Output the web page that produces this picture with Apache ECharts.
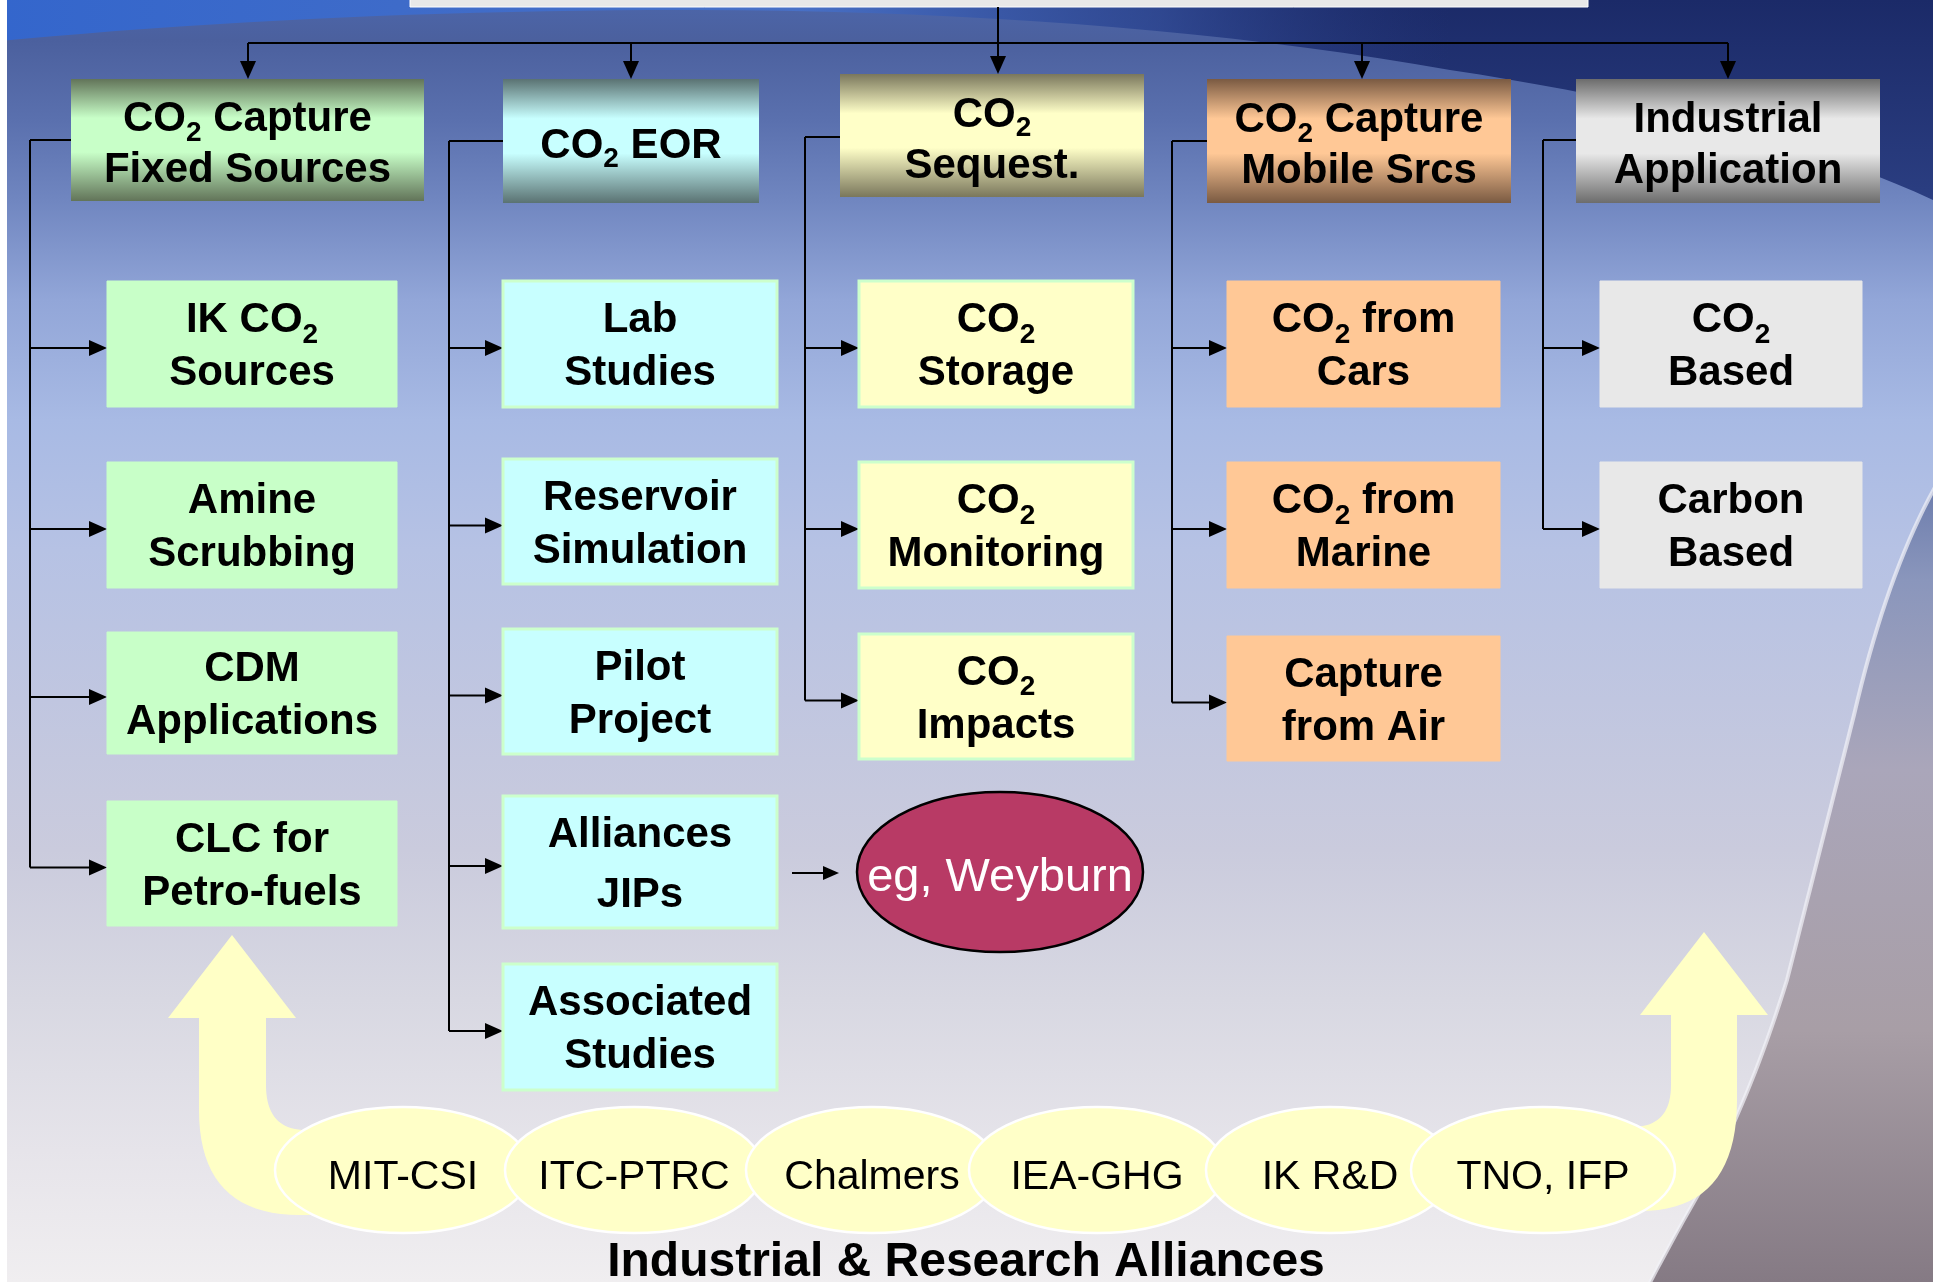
<!DOCTYPE html>
<html>
<head>
<meta charset="utf-8">
<title>CO2 programme map</title>
<script src="https://cdn.jsdelivr.net/npm/echarts@6/dist/echarts.min.js"></script>
<style>
  html, body { margin: 0; padding: 0; background: #fff; }
  #chart { width: 1933px; height: 1282px; }
</style>
</head>
<body>
<div id="chart"></div>
<script>
// everything lives on a hidden value grid that matches the slide, y runs downward
const FONT = '"Liberation Sans", Arial, Helvetica, sans-serif'

// programme areas (top row)
const headerNames = ['CO2 Capture\nFixed Sources', 'CO2 EOR', 'CO2\nSequest.', 'CO2 Capture\nMobile Srcs', 'Industrial\nApplication']
const headerBoxes = [[71, 79, 424, 201], [503, 79, 759, 203], [840, 74, 1144, 197], [1207, 79, 1511, 203], [1576, 79, 1880, 203]]
const dropX = [248, 631, 998, 1362, 1728]
const busY = 43

// sub projects per area
const itemNames = [
  ['IK CO2\nSources', 'Amine\nScrubbing', 'CDM\nApplications', 'CLC for\nPetro-fuels'],
  ['Lab\nStudies', 'Reservoir\nSimulation', 'Pilot\nProject', 'Alliances\nJIPs', 'Associated\nStudies'],
  ['CO2\nStorage', 'CO2\nMonitoring', 'CO2\nImpacts'],
  ['CO2 from\nCars', 'CO2 from\nMarine', 'Capture\nfrom Air'],
  ['CO2\nBased', 'Carbon\nBased']
]
const itemX = [[107, 397], [503, 777], [859, 1133], [1227, 1500], [1600, 1862]]
const itemY = [
  [[281, 407], [462, 588], [632, 754], [801, 926]],
  [[281, 407], [459, 584], [629, 754], [796, 928], [964, 1090]],
  [[281, 407], [462, 588], [634, 759]],
  [[281, 407], [462, 588], [636, 761]],
  [[281, 407], [462, 588]]
]
const trunkX = [30, 449, 805, 1172, 1543]
const trunkTopY = [140, 141, 137, 141, 140]

// field example
const exampleName = 'eg, Weyburn'
const exampleEllipse = [[1000, 872, 143, 80]]
const exampleArrow = [[792, 873], [839, 873]]

// partners along the bottom
const allianceNames = ['MIT-CSI', 'ITC-PTRC', 'Chalmers', 'IEA-GHG', 'IK R&D', 'TNO, IFP']
const allianceX = [403, 634, 872, 1097, 1330, 1543]
const allianceRx = [128, 129, 126, 128, 124, 132]
const allianceY = 1170
const allianceRy = 63
const footerTitle = 'Industrial & Research Alliances'

// curved arrows rising out of the end partners ([x,y] = line to, [cx,cy,x,y] = curve to)
const leftLift = [
  [232, 935], [296, 1018], [266, 1018], [266, 1085], [266, 1130, 306, 1130], [345, 1130],
  [345, 1215], [300, 1215], [199, 1215, 199, 1110], [199, 1018], [168, 1018]
]
const rightLift = [
  [1704, 932], [1768, 1015], [1737, 1015], [1737, 1100], [1737, 1211, 1640, 1211], [1595, 1211],
  [1595, 1127], [1632, 1127], [1671, 1127, 1671, 1085], [1671, 1015], [1640, 1015]
]

// slide backdrop: the pale globe, and the part of its outline that carries a light rim
const globeEdge = [
  [-10, 42], [300, 12, 650, 10], [1100, 8, 1450, 70], [1750, 115, 1933, 200], [1945, 470],
  [1890, 560, 1854, 715], [1820, 850, 1787, 980], [1750, 1100, 1699, 1193], [1672, 1240, 1645, 1292],
  [-10, 1292]
]
const globeRim = globeEdge.slice(4, 9)

const lightFill = ['#c8ffc8', '#c8ffff', '#ffffc8', '#ffc896', '#e8e8e8']
const darkFill = ['#627459', '#5a7272', '#7a775c', '#7a5a42', '#6c6c6c']

function richLabel(s) {
  return s.replace(/CO2/g, 'CO{s|2}')
}

function textEl(api, x, y, text, size, opts) {
  const p = api.coord([x, y])
  opts = opts || {}
  return {
    type: 'text',
    style: {
      x: p[0], y: p[1],
      text: richLabel(text),
      fontFamily: FONT,
      fontSize: size,
      fontWeight: opts.weight || 'bold',
      fill: opts.color || '#000',
      align: 'center',
      verticalAlign: 'middle',
      lineHeight: opts.lineHeight || 51,
      rich: {
        s: { fontSize: Math.round(size * 0.67), fontFamily: FONT, fontWeight: 'bold', height: 24, verticalAlign: 'bottom' }
      }
    }
  }
}

function head(api, tip, dir, len, half) {
  const t = tip
  let pts
  if (dir === 'right') pts = [[t[0], t[1]], [t[0] - len, t[1] - half], [t[0] - len, t[1] + half]]
  else pts = [[t[0], t[1]], [t[0] - half, t[1] - len], [t[0] + half, t[1] - len]]
  return { type: 'polygon', shape: { points: pts.map(q => api.coord(q)) }, style: { fill: '#000' } }
}

function seg(api, a, b, w) {
  const p = api.coord(a), q = api.coord(b)
  return { type: 'line', shape: { x1: p[0], y1: p[1], x2: q[0], y2: q[1] }, style: { stroke: '#000', lineWidth: w || 2 } }
}

function traceOutline(api, segs) {
  const pts = []
  let cur = null
  segs.forEach(s => {
    if (s.length === 2) {
      cur = s
      pts.push(api.coord(s))
    } else {
      for (let k = 1; k <= 20; k++) {
        const u = k / 20
        const x = (1 - u) * (1 - u) * cur[0] + 2 * u * (1 - u) * s[0] + u * u * s[2]
        const y = (1 - u) * (1 - u) * cur[1] + 2 * u * (1 - u) * s[1] + u * u * s[3]
        pts.push(api.coord([x, y]))
      }
      cur = [s[2], s[3]]
    }
  })
  return pts
}

const itemRows = []
itemNames.forEach((col, c) => col.forEach((name, r) => {
  itemRows.push([itemX[c][0], itemY[c][r][0], itemX[c][1], itemY[c][r][1], c, r])
}))

const chart = echarts.init(document.getElementById('chart'), null, { renderer: 'canvas' })

const option = {
  animation: false,
  grid: { left: 0, right: 0, top: 0, bottom: 0 },
  xAxis: { type: 'value', min: 0, max: 1933, show: false },
  yAxis: { type: 'value', min: 0, max: 1282, inverse: true, show: false },
  series: [
    {
      // slide backdrop
      type: 'custom', name: 'backdrop', z: 1, clip: false, silent: true,
      data: [[0, 0]],
      renderItem: function (params, api) {
        const o = api.coord([0, 0]), e = api.coord([1933, 1282])
        const g = (stops) => new echarts.graphic.LinearGradient(0, o[1], 0, e[1], stops.map(s => ({ offset: s[0] / 1282, color: s[1] })), true)
        return {
          type: 'group',
          children: [
            {
              type: 'rect', shape: { x: o[0], y: o[1], width: e[0] - o[0], height: e[1] - o[1] },
              style: { fill: g([[0, '#1b2a68'], [190, '#2a3d80'], [380, '#4c619c'], [580, '#8a96bc'],
                [770, '#aaa6ba'], [1030, '#a89ea6'], [1282, '#857a84']]) }
            },
            {
              type: 'rect', shape: { x: o[0], y: o[1], width: api.size([1450, 0])[0], height: api.size([0, 110])[1] },
              style: { fill: new echarts.graphic.LinearGradient(0, 0, 1, 0, [
                { offset: 0, color: '#3466cc' }, { offset: 0.55, color: '#4870c6' },
                { offset: 0.8, color: 'rgba(60,90,170,0.6)' }, { offset: 1, color: 'rgba(40,60,130,0)' }]) }
            },
            {
              type: 'polygon', shape: { points: traceOutline(api, globeEdge) },
              style: {
                fill: g([[0, '#4c66aa'], [40, '#4b609e'], [120, '#5a70ae'], [200, '#7086c0'], [300, '#92a6d8'],
                  [420, '#a8bae4'], [550, '#b6c2e4'], [700, '#c0c6e0'], [850, '#cacbdd'], [1000, '#d8d8e2'],
                  [1150, '#e6e4ea'], [1282, '#f0eef0']])
              }
            },
            {
              type: 'polyline', shape: { points: traceOutline(api, globeRim) },
              style: { fill: null, stroke: 'rgba(242,242,248,0.7)', lineWidth: 4 }
            },
            {
              type: 'rect', shape: { x: o[0], y: o[1], width: api.size([7, 0])[0], height: e[1] - o[1] },
              style: { fill: '#ffffff' }
            },
            {
              type: 'rect', shape: { x: api.coord([410, 0])[0], y: o[1] - 4, width: api.size([1178, 0])[0], height: api.size([0, 11])[1] },
              style: { fill: '#e8e8e8', stroke: '#ffffff', lineWidth: 1 }
            }
          ]
        }
      }
    },
    {
      // arrows rising from the partners to the first and last areas
      type: 'custom', name: 'lifts', z: 2, clip: false, silent: true,
      data: [[0, 0], [1, 0]],
      renderItem: function (params, api) {
        const outline = params.dataIndex === 0 ? leftLift : rightLift
        return { type: 'polygon', shape: { points: traceOutline(api, outline) }, style: { fill: '#ffffc6' } }
      }
    },
    {
      // top distribution bar
      type: 'custom', name: 'bus', z: 3, clip: false, silent: true,
      data: dropX.map((x, i) => [x, headerBoxes[i][1]]),
      renderItem: function (params, api) {
        const x = api.value(0), y = api.value(1)
        const kids = [seg(api, [x, busY], [x, y - 15]), head(api, [x, y], 'down', 18, 8)]
        if (params.dataIndex === 0) kids.push(seg(api, [dropX[0], busY], [dropX[dropX.length - 1], busY]))
        if (params.dataIndex === 2) kids.push(seg(api, [x, 7], [x, busY]))
        return { type: 'group', children: kids }
      }
    },
    {
      // branch lines from each area to its sub projects
      type: 'custom', name: 'branches', z: 3, clip: false, silent: true,
      data: trunkX.map((x, i) => [x, trunkTopY[i]]),
      renderItem: function (params, api) {
        const c = params.dataIndex
        const x = api.value(0), top = api.value(1)
        const ys = itemY[c].map(r => (r[0] + r[1]) / 2 + 4)
        const kids = [
          seg(api, [x, top], [headerBoxes[c][0], top]),
          seg(api, [x, top], [x, ys[ys.length - 1]])
        ]
        ys.forEach(y => {
          kids.push(seg(api, [x, y], [itemX[c][0] - 14, y]))
          kids.push(head(api, [itemX[c][0], y], 'right', 18, 8))
        })
        return { type: 'group', children: kids }
      }
    },
    {
      type: 'custom', name: 'areas', z: 5, clip: false,
      data: headerBoxes,
      encode: { x: [0, 2], y: [1, 3] },
      renderItem: function (params, api) {
        const i = params.dataIndex
        const p0 = api.coord([api.value(0), api.value(1)])
        const p1 = api.coord([api.value(2), api.value(3)])
        const fill = new echarts.graphic.LinearGradient(0, 0, 0, 1, [
          { offset: 0, color: darkFill[i] }, { offset: 0.32, color: lightFill[i] },
          { offset: 0.6, color: lightFill[i] }, { offset: 1, color: darkFill[i] }])
        return {
          type: 'group',
          children: [
            { type: 'rect', shape: { x: p0[0], y: p0[1], width: p1[0] - p0[0], height: p1[1] - p0[1] }, style: { fill: fill } },
            textEl(api, (api.value(0) + api.value(2)) / 2, (api.value(1) + api.value(3)) / 2 + 5, headerNames[i], 42)
          ]
        }
      }
    },
    {
      type: 'custom', name: 'projects', z: 5, clip: false,
      data: itemRows,
      encode: { x: [0, 2], y: [1, 3] },
      renderItem: function (params, api) {
        const c = api.value(4), r = api.value(5)
        const p0 = api.coord([api.value(0), api.value(1)])
        const p1 = api.coord([api.value(2), api.value(3)])
        const name = itemNames[c][r]
        const edged = c === 1 || c === 2
        return {
          type: 'group',
          children: [
            {
              type: 'rect', shape: { x: p0[0], y: p0[1], width: p1[0] - p0[0], height: p1[1] - p0[1] },
              style: { fill: lightFill[c], stroke: edged ? '#ccffcc' : lightFill[c], lineWidth: edged ? 3 : 1 }
            },
            textEl(api, (api.value(0) + api.value(2)) / 2, (api.value(1) + api.value(3)) / 2 + 3, name, 42,
              { lineHeight: name.indexOf('JIPs') >= 0 ? 60 : 53 })
          ]
        }
      }
    },
    {
      type: 'custom', name: 'example', z: 5, clip: false,
      data: exampleEllipse,
      renderItem: function (params, api) {
        const c = api.coord([api.value(0), api.value(1)])
        const sz = api.size([api.value(2), api.value(3)])
        return {
          type: 'group',
          children: [
            seg(api, exampleArrow[0], [exampleArrow[1][0] - 12, exampleArrow[1][1]]),
            head(api, exampleArrow[1], 'right', 16, 7),
            { type: 'ellipse', shape: { cx: c[0], cy: c[1], rx: sz[0], ry: sz[1] }, style: { fill: '#b83a65', stroke: '#000', lineWidth: 2.5 } },
            textEl(api, api.value(0), api.value(1) + 6, exampleName, 47, { weight: 'normal', color: '#fff' })
          ]
        }
      }
    },
    {
      type: 'custom', name: 'alliances', z: 6, clip: false,
      data: allianceX.map((x, i) => [x, allianceY, allianceRx[i], allianceRy]),
      renderItem: function (params, api) {
        const c = api.coord([api.value(0), api.value(1)])
        const sz = api.size([api.value(2), api.value(3)])
        return {
          type: 'group',
          children: [
            { type: 'ellipse', shape: { cx: c[0], cy: c[1], rx: sz[0], ry: sz[1] }, style: { fill: '#ffffc8', stroke: '#ffffff', lineWidth: 2.5 } },
            textEl(api, api.value(0), api.value(1) + 8, allianceNames[params.dataIndex], 41, { weight: 'normal' })
          ]
        }
      }
    },
    {
      type: 'custom', name: 'footer', z: 6, clip: false, silent: true,
      data: [[966, 1263]],
      renderItem: function (params, api) {
        return textEl(api, api.value(0), api.value(1), footerTitle, 48)
      }
    }
  ]
}

chart.setOption(option)
window.addEventListener('resize', function () {
  chart.resize()
})
</script>
</body>
</html>
